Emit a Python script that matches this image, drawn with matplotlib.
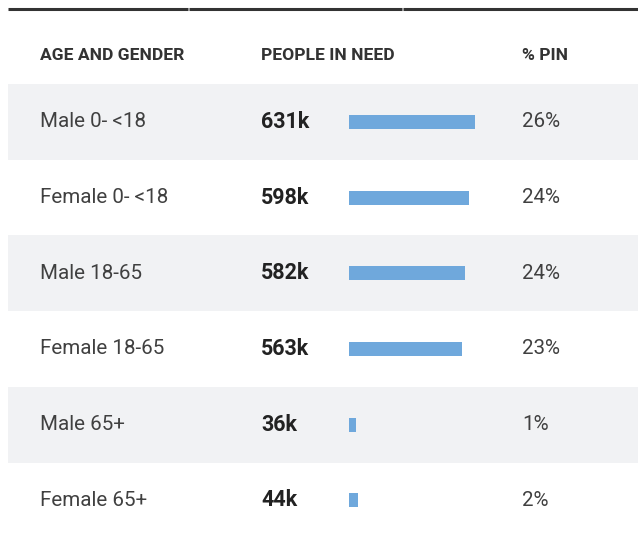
import matplotlib.pyplot as plt
import matplotlib.patches as patches

groups = ["Male 0- <18", "Female 0- <18", "Male 18-65", "Female 18-65", "Male 65+", "Female 65+"]
pin_k = [631, 598, 582, 563, 36, 44]
pin_pct = [26, 24, 24, 23, 1, 2]
headers = ["AGE AND GENDER", "PEOPLE IN NEED", "% PIN"]

W, H = 638, 533
fig = plt.figure(figsize=(W / 100, H / 100), dpi=100)
ax = fig.add_axes([0, 0, 1, 1])
ax.set_xlim(0, W)
ax.set_ylim(H, 0)
ax.axis('off')

plt.rcParams['font.family'] = ['Roboto', 'DejaVu Sans']

# top rule, split per column
for x0, x1 in [(8, 188), (189, 402), (403, 638)]:
    ax.plot([x0, x1], [8.5, 8.5], color='#333333', lw=2.2, solid_capstyle='butt')

col_x = [40, 261, 522]
for x, h in zip(col_x, headers):
    ax.text(x, 55, h, fontsize=12.6, fontweight='bold', color='#333333',
            ha='left', va='center')

row_top = 84
row_h = 75.7
bar_left = 349
px_per_k = 0.2

for i, (g, v, p) in enumerate(zip(groups, pin_k, pin_pct)):
    y0 = row_top + i * row_h
    yc = y0 + row_h / 2
    if i % 2 == 0:
        ax.add_patch(patches.Rectangle((8, y0), W - 8, row_h, facecolor='#f1f2f4',
                                       edgecolor='none', zorder=0))
    ax.text(col_x[0], yc, g, fontsize=14.8, fontweight='normal', color='#404040',
            ha='left', va='center')
    ax.text(col_x[1], yc, f"{v}k", fontsize=15.5, fontweight='bold', color='#222222',
            ha='left', va='center')
    ax.text(col_x[2], yc, f"{p}%", fontsize=14.8, fontweight='normal', color='#404040',
            ha='left', va='center')

ys = [row_top + i * row_h + row_h / 2 for i in range(len(groups))]
ax.barh(ys, [v * px_per_k for v in pin_k], left=bar_left, height=14,
        color='#6fa8dc', zorder=2)

fig.savefig("out.png", dpi=100)
